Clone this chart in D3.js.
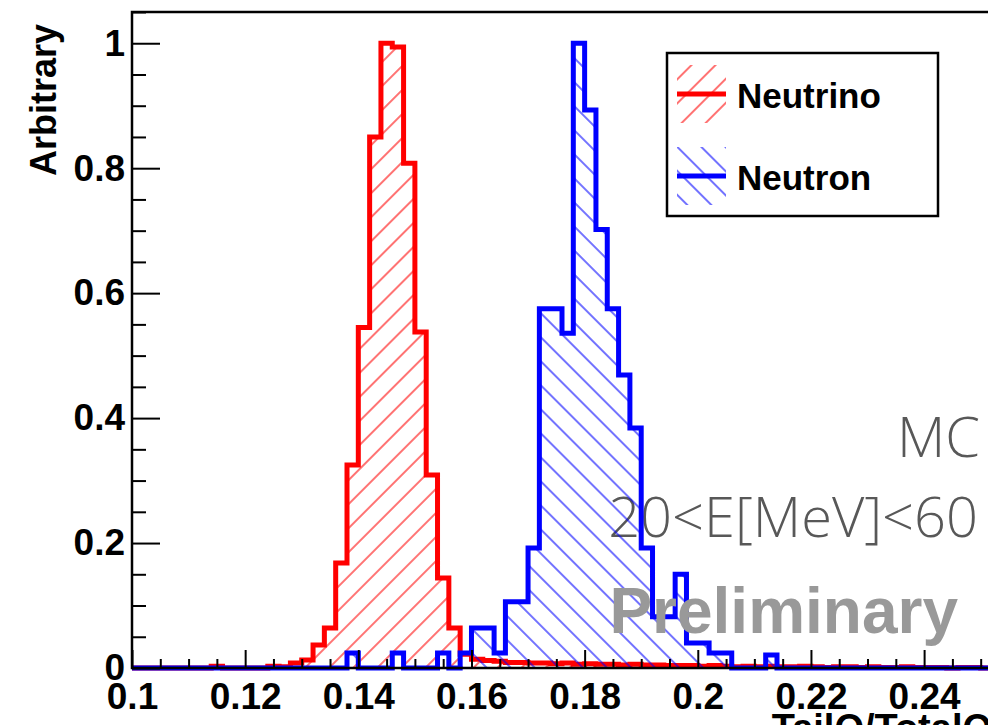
<!DOCTYPE html>
<html>
<head>
<meta charset="utf-8">
<script src="https://cdn.jsdelivr.net/npm/d3@7"></script>
<style>
    body { margin: 0; background: #fff; }
    svg { display: block; }
    .tick text { font-family: "Liberation Sans", Arial, sans-serif; font-weight: bold; font-size: 37px; fill: #000; }
    .tick line { stroke: #000; stroke-width: 2; }
</style>
</head>
<body>
<div id="chart"></div>
<script>
// histogram binning (TailQ/TotalQ), bins of 0.002 starting at 0.1
const binLow = 0.1;
const binWidth = 0.002;

// neutrino (red) bin contents, normalised to peak
const neutrino = [
    0, 0, 0, 0, 0, 0, 0, 0.003, 0, 0,
    0, 0, 0.003, 0.002, 0.008, 0.013, 0.037, 0.064, 0.168, 0.325,
    0.545, 0.850, 1.000, 0.994, 0.808, 0.538, 0.309, 0.144, 0.064, 0.022,
    0.014, 0.012, 0.011, 0.009, 0.009, 0.008, 0.008, 0.007, 0.008, 0.006,
    0.007, 0.006, 0.006, 0.005, 0.006, 0.005, 0.005, 0.004, 0.004, 0.004,
    0.003, 0.004, 0.003, 0.002, 0.003, 0.002, 0.003, 0.002, 0.002, 0.003,
    0.002, 0.001, 0.002, 0.002, 0.001, 0.002, 0.001, 0.001, 0.002, 0.001,
    0.001, 0.001, 0, 0.001, 0.001, 0
];

// neutron (blue) bin contents, normalised to peak
const neutron = [
    0, 0, 0, 0, 0, 0, 0, 0, 0, 0,
    0, 0, 0, 0, 0, 0, 0, 0, 0, 0.024,
    0, 0, 0, 0.024, 0, 0, 0, 0.024, 0, 0.024,
    0.064, 0.064, 0.024, 0.106, 0.106, 0.192, 0.575, 0.575, 0.536, 1.000,
    0.893, 0.702, 0.575, 0.469, 0.384, 0.192, 0.082, 0.082, 0.150, 0.040,
    0.040, 0.024, 0.024, 0, 0, 0, 0.021, 0, 0, 0,
    0, 0, 0, 0, 0, 0, 0, 0, 0, 0,
    0, 0, 0, 0, 0, 0
];

// axis ticks
const xMajorTicks = [0.1, 0.12, 0.14, 0.16, 0.18, 0.2, 0.22, 0.24];
const xMinorTicks = [0.105, 0.11, 0.115, 0.125, 0.13, 0.135, 0.145, 0.15, 0.155, 0.165, 0.17, 0.175,
    0.185, 0.19, 0.195, 0.205, 0.21, 0.215, 0.225, 0.23, 0.235, 0.245, 0.25];
const yMajorTicks = [0, 0.2, 0.4, 0.6, 0.8, 1];
const yMinorTicks = [0.05, 0.1, 0.15, 0.25, 0.3, 0.35, 0.45, 0.5, 0.55, 0.65, 0.7, 0.75, 0.85, 0.9, 0.95, 1.05];

const legendNames = ["Neutrino", "Neutron"];
const seriesColors = ["#ff0000", "#0000ff"];

// frame of the plot (right border lies just off the page)
const frame = {left: 132, right: 992, top: 12, bottom: 668};

const svg = d3.select("#chart")
    .append("svg")
        .attr("width", 988)
        .attr("height", 725);

// hatch patterns, "/" for red and "\" for blue
const defs = svg.append("defs");
[45, -45].forEach(function(angle, i) {
    defs.append("pattern")
        .attr("id", "hatch" + i)
        .attr("patternUnits", "userSpaceOnUse")
        .attr("width", 17)
        .attr("height", 17)
        .attr("patternTransform", `rotate(${angle})`)
    .append("line")
        .attr("x1", 8).attr("y1", 0)
        .attr("x2", 8).attr("y2", 17)
        .attr("stroke", seriesColors[i])
        .attr("stroke-width", 1.1);
});

// scales
const xScale = d3.scaleLinear()
    .domain([0.1, 0.252])
    .range([frame.left, frame.right]);
const yScale = d3.scaleLinear()
    .domain([0, 1.05])
    .range([frame.bottom, frame.top]);

// "MC" labels sit behind the histograms
svg.append("text")
    .attr("x", 980)
    .attr("y", 457)
    .attr("text-anchor", "end")
    .style("font-family", "'Open Sans', 'Noto Sans', sans-serif")
    .style("font-weight", 300)
    .style("font-size", "56px")
    .style("fill", "#585858")
    .text("MC");
svg.append("text")
    .attr("x", 978)
    .attr("y", 537)
    .attr("text-anchor", "end")
    .style("font-family", "'Open Sans', 'Noto Sans', sans-serif")
    .style("font-weight", 300)
    .style("font-size", "56px")
    .style("fill", "#585858")
    .text("20<E[MeV]<60");

// histogram points: bin low edges plus the last upper edge
function histPoints(values) {
    const pts = values.map(function(v, i) { return [binLow + i * binWidth, v]; });
    pts.push([binLow + values.length * binWidth, values[values.length - 1]]);
    return pts;
}

const area = d3.area()
    .curve(d3.curveStepAfter)
    .x(function(d) { return xScale(d[0]); })
    .y0(yScale(0))
    .y1(function(d) { return yScale(d[1]); });
const line = d3.line()
    .curve(d3.curveStepAfter)
    .x(function(d) { return xScale(d[0]); })
    .y(function(d) { return yScale(d[1]); });

[neutrino, neutron].forEach(function(values, i) {
    const pts = histPoints(values);
    svg.append("path")
        .attr("d", area(pts))
        .attr("fill", `url(#hatch${i})`);
    svg.append("path")
        .attr("d", line(pts))
        .attr("fill", "none")
        .attr("stroke", seriesColors[i])
        .attr("stroke-width", 5)
        .attr("stroke-linejoin", "miter");
});

// x axis, ticks pointing into the frame
svg.append("g")
    .attr("transform", `translate(0, ${frame.bottom})`)
    .call(d3.axisBottom(xScale).tickValues(xMinorTicks).tickSizeInner(-9).tickSizeOuter(0).tickFormat(""))
    .call(function(g) { g.select(".domain").remove(); });
svg.append("g")
    .attr("transform", `translate(0, ${frame.bottom})`)
    .call(d3.axisBottom(xScale).tickValues(xMajorTicks).tickSizeInner(-18).tickSizeOuter(0).tickPadding(15).tickFormat(d3.format("")))
    .call(function(g) { g.select(".domain").remove(); });

// y axis
svg.append("g")
    .attr("transform", `translate(${frame.left}, 0)`)
    .call(d3.axisLeft(yScale).tickValues(yMinorTicks).tickSizeInner(-14).tickSizeOuter(0).tickFormat(""))
    .call(function(g) { g.select(".domain").remove(); });
svg.append("g")
    .attr("transform", `translate(${frame.left}, 0)`)
    .call(d3.axisLeft(yScale).tickValues(yMajorTicks).tickSizeInner(-28).tickSizeOuter(0).tickPadding(7).tickFormat(d3.format("")))
    .call(function(g) { g.select(".domain").remove(); });

// frame lines
svg.append("path")
    .attr("d", `M${frame.right},${frame.top}H${frame.left}V${frame.bottom}H${frame.right}`)
    .attr("fill", "none")
    .attr("stroke", "#000")
    .attr("stroke-width", 2.5);

// axis titles
svg.append("text")
    .attr("transform", "translate(56, 24) rotate(-90)")
    .attr("text-anchor", "end")
    .style("font-family", "'Liberation Sans', Arial, sans-serif")
    .style("font-weight", "bold")
    .style("font-size", "36px")
    .text("Arbitrary");
svg.append("text")
    .attr("x", 992)
    .attr("y", 741)
    .attr("text-anchor", "end")
    .style("font-family", "'Liberation Sans', Arial, sans-serif")
    .style("font-weight", "bold")
    .style("font-size", "38px")
    .text("TailQ/TotalQ");

// preliminary stamp
svg.append("text")
    .attr("x", 958)
    .attr("y", 633)
    .attr("text-anchor", "end")
    .style("font-family", "'Liberation Sans', Arial, sans-serif")
    .style("font-weight", "bold")
    .style("font-size", "64px")
    .style("fill", "#999999")
    .text("Preliminary");

// legend
const legend = svg.append("g");
legend.append("rect")
    .attr("x", 667)
    .attr("y", 53)
    .attr("width", 271)
    .attr("height", 163)
    .attr("fill", "#fff")
    .attr("stroke", "#000")
    .attr("stroke-width", 2.5);

const entry = legend.selectAll(".entry")
    .data(legendNames)
    .enter()
    .append("g")
        .attr("class", "entry")
        .attr("transform", function(d, i) { return `translate(0, ${i * 82})`; });
entry.append("rect")
    .attr("x", 677)
    .attr("y", 65)
    .attr("width", 49)
    .attr("height", 58)
    .attr("fill", function(d, i) { return `url(#hatch${i})`; });
entry.append("line")
    .attr("x1", 677)
    .attr("x2", 726)
    .attr("y1", 94)
    .attr("y2", 94)
    .attr("stroke", function(d, i) { return seriesColors[i]; })
    .attr("stroke-width", 5);
entry.append("text")
    .attr("x", 737)
    .attr("y", 108)
    .style("font-family", "'Liberation Sans', Arial, sans-serif")
    .style("font-weight", "bold")
    .style("font-size", "35px")
    .text(function(d) { return d; });
</script>
</body>
</html>
